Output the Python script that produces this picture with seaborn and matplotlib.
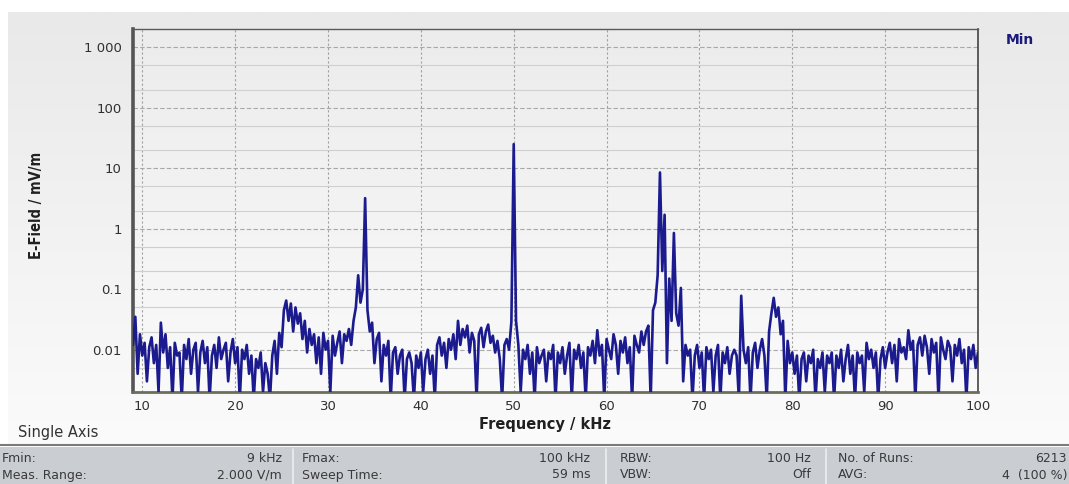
"""
plot.py
=======
E-field spectrum (Min trace) of a field meter sweep, 9 kHz - 100 kHz.
"""

import matplotlib
matplotlib.use("Agg")

import matplotlib.pyplot as plt
import matplotlib.ticker as mticker
import numpy as np
import pandas as pd
import seaborn as sns
from matplotlib.colors import LinearSegmentedColormap
from matplotlib.lines import Line2D
from matplotlib.patches import Rectangle


# ======================================================
# DATA (mV/m, 0.25 kHz steps)
# ======================================================

freq_start_khz = 9.0
freq_step_khz = 0.25

efield_mv_m = [
    # 9.0 - 13.75
    0.012, 0.035, 0.004, 0.018, 0.008, 0.013, 0.003, 0.011, 0.016, 0.006,
    0.012, 0.002, 0.028, 0.009, 0.018, 0.005, 0.011, 0.0015, 0.013, 0.008,
    # 14.0 - 18.75
    0.009, 0.0015, 0.012, 0.007, 0.015, 0.004, 0.010, 0.013, 0.002, 0.009,
    0.014, 0.006, 0.011, 0.0015, 0.008, 0.012, 0.005, 0.016, 0.007, 0.010,
    # 19.0 - 23.75
    0.013, 0.003, 0.009, 0.015, 0.006, 0.011, 0.0015, 0.010, 0.007, 0.012,
    0.004, 0.008, 0.0015, 0.007, 0.005, 0.009, 0.002, 0.006, 0.004, 0.0015,
    # 24.0 - 28.75
    0.008, 0.014, 0.004, 0.019, 0.011, 0.045, 0.065, 0.030, 0.058, 0.020,
    0.050, 0.027, 0.040, 0.015, 0.030, 0.009, 0.022, 0.012, 0.018, 0.006,
    # 29.0 - 33.75
    0.016, 0.004, 0.019, 0.010, 0.014, 0.002, 0.017, 0.008, 0.013, 0.020,
    0.006, 0.018, 0.014, 0.022, 0.012, 0.030, 0.050, 0.170, 0.060, 0.100,
    # 34.0 - 38.75
    3.2, 0.045, 0.020, 0.028, 0.006, 0.015, 0.019, 0.003, 0.012, 0.008,
    0.014, 0.0015, 0.009, 0.011, 0.004, 0.008, 0.010, 0.0015, 0.007, 0.009,
    # 39.0 - 43.75
    0.006, 0.0015, 0.008, 0.005, 0.009, 0.002, 0.007, 0.010, 0.004, 0.008,
    0.0015, 0.012, 0.016, 0.008, 0.013, 0.005, 0.015, 0.010, 0.018, 0.007,
    # 44.0 - 48.75
    0.030, 0.012, 0.022, 0.016, 0.025, 0.009, 0.019, 0.014, 0.0015, 0.018,
    0.023, 0.011, 0.020, 0.026, 0.013, 0.017, 0.009, 0.014, 0.007, 0.0015,
    # 49.0 - 53.75
    0.012, 0.015, 0.010, 0.029, 25.0, 0.030, 0.012, 0.002, 0.010, 0.007,
    0.012, 0.004, 0.009, 0.0015, 0.011, 0.006, 0.008, 0.010, 0.003, 0.009,
    # 54.0 - 58.75
    0.007, 0.012, 0.0015, 0.009, 0.006, 0.011, 0.004, 0.008, 0.013, 0.0015,
    0.010, 0.007, 0.012, 0.005, 0.009, 0.0015, 0.011, 0.008, 0.014, 0.006,
    # 59.0 - 63.75
    0.021, 0.008, 0.012, 0.0015, 0.015, 0.010, 0.007, 0.018, 0.012, 0.004,
    0.014, 0.009, 0.016, 0.006, 0.011, 0.0015, 0.017, 0.012, 0.009, 0.020,
    # 64.0 - 68.75
    0.012, 0.020, 0.025, 0.0015, 0.045, 0.060, 0.170, 8.5, 0.200, 1.7,
    0.006, 0.150, 0.030, 0.850, 0.040, 0.025, 0.105, 0.003, 0.012, 0.008,
    # 69.0 - 73.75
    0.010, 0.0015, 0.008, 0.012, 0.005, 0.009, 0.0015, 0.011, 0.007, 0.010,
    0.002, 0.008, 0.012, 0.0015, 0.009, 0.006, 0.011, 0.004, 0.008, 0.010,
    # 74.0 - 78.75
    0.008, 0.0015, 0.078, 0.010, 0.006, 0.011, 0.0015, 0.009, 0.013, 0.005,
    0.010, 0.015, 0.008, 0.0015, 0.020, 0.040, 0.072, 0.035, 0.050, 0.018,
    # 79.0 - 83.75
    0.030, 0.0015, 0.014, 0.006, 0.009, 0.004, 0.008, 0.0015, 0.007, 0.009,
    0.003, 0.008, 0.006, 0.010, 0.0015, 0.007, 0.005, 0.009, 0.002, 0.008,
    # 84.0 - 88.75
    0.006, 0.009, 0.0015, 0.008, 0.005, 0.010, 0.003, 0.007, 0.012, 0.004,
    0.008, 0.0015, 0.009, 0.006, 0.008, 0.002, 0.013, 0.007, 0.010, 0.005,
    # 89.0 - 93.75
    0.009, 0.0015, 0.007, 0.011, 0.005, 0.009, 0.013, 0.006, 0.012, 0.003,
    0.015, 0.009, 0.011, 0.007, 0.021, 0.010, 0.014, 0.0015, 0.012, 0.016,
    # 94.0 - 98.75
    0.008, 0.017, 0.011, 0.004, 0.015, 0.009, 0.013, 0.0015, 0.016, 0.010,
    0.007, 0.014, 0.011, 0.003, 0.012, 0.008, 0.015, 0.006, 0.010, 0.0015,
    # 99.0 - 100.0
    0.011, 0.007, 0.012, 0.005, 0.009,
]

x_ticks = [10, 20, 30, 40, 50, 60, 70, 80, 90, 100]
y_ticks = [0.01, 0.1, 1, 10, 100, 1000]
y_tick_labels = ["0.01", "0.1", "1", "10", "100", "1 000"]

info_rows = [
    [("Fmin:", "9 kHz"), ("Fmax:", "100 kHz"), ("RBW:", "100 Hz"), ("No. of Runs:", "6213")],
    [("Meas. Range:", "2.000 V/m"), ("Sweep Time:", "59 ms"), ("VBW:", "Off"), ("AVG:", "4  (100 %)")],
]

df = pd.DataFrame({
    "freq": freq_start_khz + freq_step_khz * np.arange(len(efield_mv_m)),
    "efield": efield_mv_m,
})


# ======================================================
# FIGURE
# ======================================================

W, H = 1069, 484
sns.set_style("white")
plt.rcParams["font.family"] = ["DejaVu Sans"]

fig = plt.figure(figsize=(W / 100, H / 100), dpi=100)
fig.patch.set_facecolor("white")


def fx(px):
    return px / W


def fy(py):
    return 1 - py / H


grad = np.linspace(0, 1, 256).reshape(-1, 1)

# panel background gradient (grey at top, almost white at bottom)
bg = fig.add_axes([fx(8), fy(445), 1 - fx(8), fy(12) - fy(445)], zorder=0)
bg.imshow(grad, aspect="auto", extent=[0, 1, 0, 1],
          cmap=LinearSegmentedColormap.from_list("panel", ["#e9e9e9", "#fbfbfb"]))
bg.set_axis_off()

# plot area gradient
L, R, T, B = 133, 978, 29, 392
pbg = fig.add_axes([fx(L), fy(B), fx(R - L), fy(T) - fy(B)], zorder=1)
pbg.imshow(grad, aspect="auto", extent=[0, 1, 0, 1],
           cmap=LinearSegmentedColormap.from_list("plot", ["#ececec", "#fafafa"]))
pbg.set_axis_off()

ax = fig.add_axes([fx(L), fy(B), fx(R - L), fy(T) - fy(B)], zorder=2)
ax.patch.set_alpha(0)

sns.lineplot(data=df, x="freq", y="efield", ax=ax, color="#1b1b8f",
             linewidth=1.9, estimator=None, sort=False, zorder=3)

ax.set_yscale("log")
ax.set_xlim(9, 100)
ax.set_ylim(0.002, 2000)

ax.xaxis.set_major_locator(mticker.FixedLocator(x_ticks))
ax.set_xticklabels([str(t) for t in x_ticks])
ax.yaxis.set_major_locator(mticker.FixedLocator(y_ticks))
ax.set_yticklabels(y_tick_labels)
ax.yaxis.set_minor_locator(mticker.LogLocator(base=10, subs=(2.0, 5.0)))
ax.yaxis.set_minor_formatter(mticker.NullFormatter())

ax.grid(which="major", axis="y", color="#a8a8a8", linestyle=(0, (4, 2)), linewidth=0.8)
ax.grid(which="minor", axis="y", color="#cfcfcf", linestyle="-", linewidth=0.8)
ax.grid(which="major", axis="x", color="#a0a0a0", linestyle=(0, (2, 2)), linewidth=0.8)
ax.set_axisbelow(True)

ax.tick_params(axis="both", which="major", direction="out", length=4, width=0.8,
               color="#888888", labelsize=9.5, labelcolor="#303030")
ax.tick_params(axis="x", which="major", pad=2)
ax.tick_params(axis="y", which="major", pad=4)
ax.tick_params(axis="y", which="minor", length=0)
ax.set_xlabel("")
ax.set_ylabel("")

for side, (lw, col) in {"left": (2.6, "#555555"), "top": (1.0, "#5a5a5a"),
                        "right": (1.2, "#444444"), "bottom": (2.0, "#6d6d5d")}.items():
    ax.spines[side].set_visible(True)
    ax.spines[side].set_linewidth(lw)
    ax.spines[side].set_color(col)


# ======================================================
# LABELS
# ======================================================

fig.text(fx(36), fy(205), "E-Field / mV/m", rotation=90, ha="center", va="center",
         fontsize=10.5, fontweight="bold", fontstretch="condensed", color="#202020")
fig.text(fx(545), fy(424), "Frequency / kHz", ha="center", va="center",
         fontsize=10.5, fontweight="bold", color="#202020")
fig.text(fx(1020), fy(40), "Min", ha="center", va="center",
         fontsize=10, fontweight="bold", color="#1a1a7a")
fig.text(fx(18), fy(433), "Single Axis", ha="left", va="center",
         fontsize=10.5, color="#333333")


# ======================================================
# INFO TABLE
# ======================================================

fig.add_artist(Line2D([0, 1], [fy(445), fy(445)], color="#7a7a7a", linewidth=1.5))
fig.add_artist(Rectangle((0, 0), 1, fy(447), facecolor="#cacdd2", edgecolor="none"))

label_x = [2, 302, 620, 838]
value_x = [282, 590, 811, 1067]
sep_x = [293, 606, 826]
row_y = [459, 475]

for sx in sep_x:
    fig.add_artist(Line2D([fx(sx), fx(sx)], [0, fy(449)], color="#eeeeee", linewidth=1.2))

for r, row in enumerate(info_rows):
    for c, (lab, val) in enumerate(row):
        fig.text(fx(label_x[c]), fy(row_y[r]), lab, ha="left", va="center",
                 fontsize=9, color="#3a3a3a")
        fig.text(fx(value_x[c]), fy(row_y[r]), val, ha="right", va="center",
                 fontsize=9, color="#3a3a3a")

fig.savefig("out.png", dpi=100)
